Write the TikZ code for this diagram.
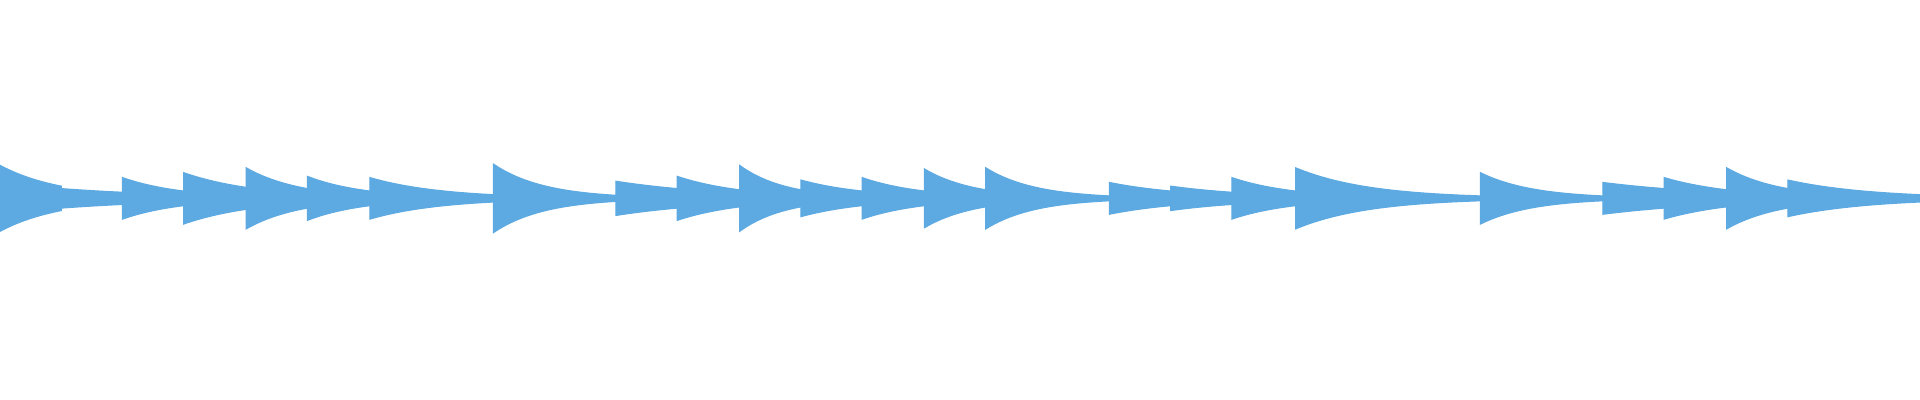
\documentclass[tikz,border=0pt]{standalone}
\usepackage{tikz}
\definecolor{wavecol}{RGB}{93,170,226}
\tikzset{wave/.style={fill=wavecol, draw=wavecol, line width=0.3pt}}
\newcommand{\wnote}[4]{%
  \fill[wave] plot[domain=#1:#2,samples=30] (\x,{#3*exp(ln(#4/#3)*(\x-#1)/(#2-#1))})
    -- plot[domain=#2:#1,samples=30] (\x,{-#3*exp(ln(#4/#3)*(\x-#1)/(#2-#1))}) -- cycle;}
\begin{document}
\begin{tikzpicture}[x=0.012245cm,y=0.012245cm]
  \useasboundingbox (0,0) rectangle (1568,326.6);
  \begin{scope}[yshift=164.6*0.012245cm]
    % onset / end / start amplitude / end amplitude
    \foreach \a/\b/\p/\q in {0/50/27/10, 50/100/8/5, 100/150/17/6, 150/201/21/9,
        201/251/25/8, 251/302/18/6, 302/403/17/3, 403/503/28/2.5, 503/553/14/8,
        553/604/18/7, 604/654/27/7, 654/704/15/6, 704/755/17/6, 755/805/24/7,
        805/906/25/2, 906/956/13/6, 956/1006/10/5, 1006/1058/17/6, 1058/1209/25/2,
        1209/1309/21/2, 1309/1359/13/8, 1359/1410/17/7, 1410/1460/25/8,
        1460/1568/15/3}
      {\wnote{\a}{\b}{\p}{\q}}
  \end{scope}
\end{tikzpicture}
\end{document}
